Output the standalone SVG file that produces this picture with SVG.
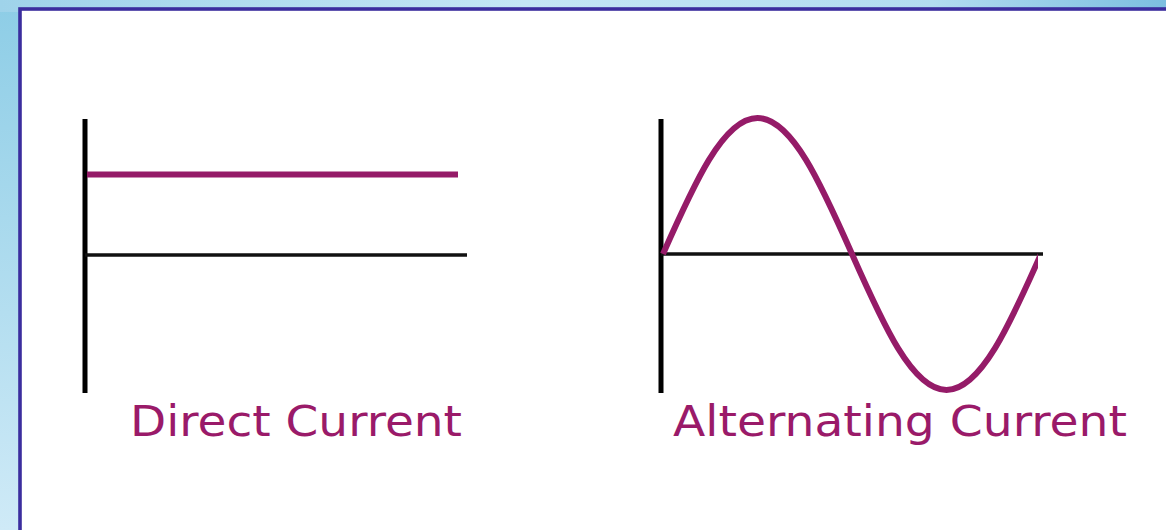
<svg xmlns="http://www.w3.org/2000/svg" width="1166" height="530" viewBox="0 0 1166 530">
  <defs>
    <linearGradient id="bgLeft" x1="0" y1="0" x2="0" y2="1">
      <stop offset="0" stop-color="#8dcde6"/>
      <stop offset="1" stop-color="#cfeaf7"/>
    </linearGradient>
    <linearGradient id="bgTop" x1="0" y1="0" x2="1" y2="0">
      <stop offset="0" stop-color="#9fd3ea"/>
      <stop offset="0.45" stop-color="#c4e6f5"/>
      <stop offset="0.8" stop-color="#b2dcf0"/>
      <stop offset="1" stop-color="#7cbfe0"/>
    </linearGradient>
    <clipPath id="acClip">
      <rect x="600" y="100" width="438" height="310"/>
    </clipPath>
  </defs>
  <style>
    .axisV { stroke: #000; stroke-width: 5; fill: none; }
    .axisH { stroke: #111; stroke-width: 3.5; fill: none; }
    .wave { stroke: #951b68; stroke-width: 6; fill: none; }
    .label { font-family: "DejaVu Sans", Verdana, sans-serif; font-size: 43px; fill: #9a1a69; }
  </style>
  <rect x="0" y="0" width="1166" height="530" fill="url(#bgLeft)"/>
  <rect x="0" y="0" width="1166" height="12" fill="url(#bgTop)"/>
  <g id="panel">
    <rect x="20" y="9" width="1160" height="540" fill="#ffffff" stroke="#3b2d9e" stroke-width="3.6"/>
  </g>
  <g id="dc-graph">
    <line class="axisV" x1="85" y1="119" x2="85" y2="393"/>
    <line class="axisH" x1="85" y1="255" x2="467" y2="255"/>
    <line class="wave" x1="87" y1="174.5" x2="458" y2="174.5"/>
    <text class="label" x="130" y="436" textLength="332" lengthAdjust="spacingAndGlyphs">Direct Current</text>
  </g>
  <g id="ac-graph">
    <line class="axisV" x1="661" y1="119" x2="661" y2="393"/>
    <line class="axisH" x1="661" y1="254" x2="1043" y2="254"/>
    <path class="wave" clip-path="url(#acClip)" d="M663,254 C693.8,184.3 723.3,118 757.5,118 C791.7,118 821.2,184.3 852,254 C882.8,323.7 912.3,390 946.5,390 C980.7,390 1010.2,323.7 1041,254"/>
    <text class="label" x="673" y="436" textLength="454" lengthAdjust="spacingAndGlyphs">Alternating Current</text>
  </g>
</svg>
